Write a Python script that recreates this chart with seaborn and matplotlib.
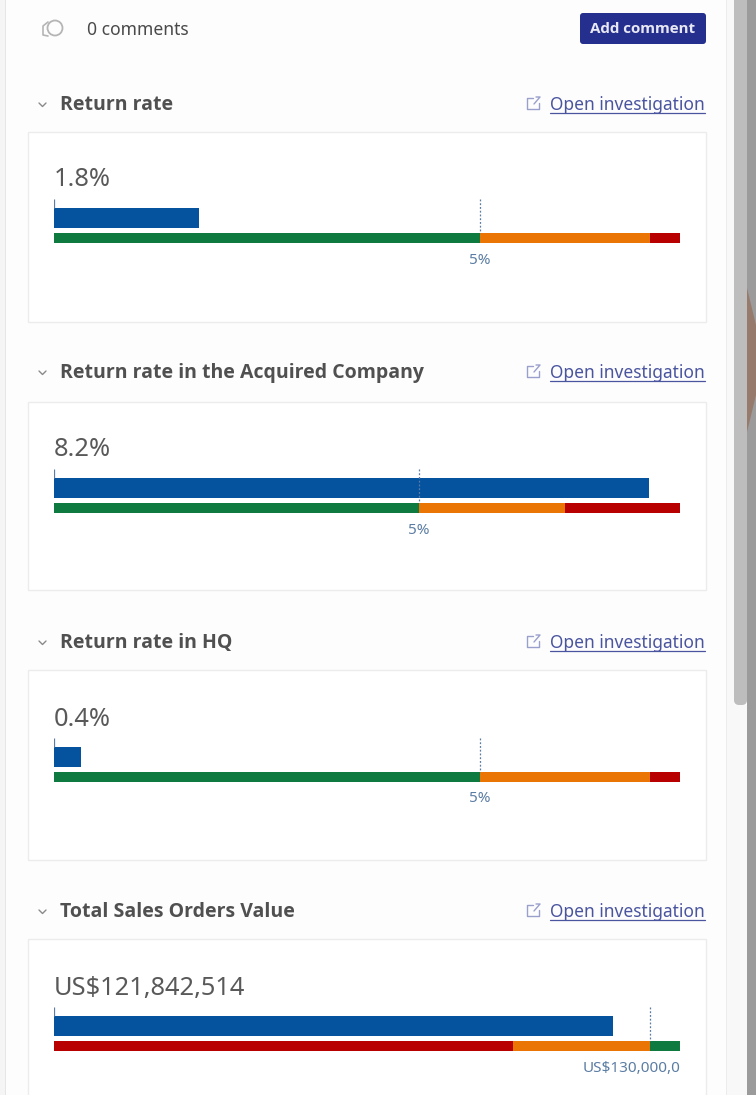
import matplotlib
matplotlib.use("Agg")
import matplotlib.pyplot as plt
from matplotlib.patches import Rectangle, FancyBboxPatch, Polygon
import seaborn as sns

# card contents
titles = ['Return rate', 'Return rate in the Acquired Company', 'Return rate in HQ', 'Total Sales Orders Value']
value_labels = ['1.8%', '8.2%', '0.4%', 'US$121,842,514']
target_labels = ['5%', '5%', '5%', 'US$130,000,0']

# bar lengths
actuals = [1.7, 8.16, 0.32, 121.9]
targets = [5, 5, 5, 130]
range_ends = [[5, 7, 7.35], [5, 7, 8.58], [5, 7, 7.35], [100, 130, 136.5]]
range_colors = [['#0f7a3f', '#ea7404', '#b90000'],
                ['#0f7a3f', '#ea7404', '#b90000'],
                ['#0f7a3f', '#ea7404', '#b90000'],
                ['#b90000', '#ea7404', '#0f7a3f']]

# pixel layout of the cards
card_tops = [132, 402, 670, 939]
card_bottoms = [322, 590, 860, 1115]
header_y = [105, 373, 643, 912]
value_y = [180, 450, 719, 988]
bar_tops = [199, 469, 738, 1007]

sns.set_theme(style='white')
plt.rcParams['font.family'] = ['Noto Sans', 'DejaVu Sans']

W, H = 756, 1095
fig = plt.figure(figsize=(W / 100, H / 100), dpi=100, facecolor='#fdfdfd')
bg = fig.add_axes([0, 0, 1, 1])
bg.set_xlim(0, W)
bg.set_ylim(H, 0)
bg.axis('off')

TXT = '#4a4a4a'
LINK = '#4a55a0'
BOLD = ['Open Sans', 'DejaVu Sans']

# window edges and scrollbar
bg.add_patch(Rectangle((0, 0), 5, H, fc='#f5f5f5', ec='none'))
bg.add_patch(Rectangle((5, 0), 1, H, fc='#e6e6e6', ec='none'))
bg.add_patch(Rectangle((726, 0), 1, H, fc='#ececec', ec='none'))
bg.add_patch(Rectangle((727, 0), 7, H, fc='#f8f8f8', ec='none'))
bg.add_patch(Rectangle((734, 705), 13, H - 705, fc='#f8f8f8', ec='none'))
bg.add_patch(FancyBboxPatch((734, -20), 13, 725, boxstyle='round,pad=0,rounding_size=5', fc='#bdbdbd', ec='none'))
bg.add_patch(Rectangle((747, 0), 9, H, fc='#9b9b9b', ec='none'))
bg.add_patch(Polygon([(747, 288), (756, 325), (756, 395), (747, 432)], fc='#967a6c', ec='none'))

# top row
bg.text(87, 30, '0 comments', fontsize=12.6, color=TXT, va='center')
bg.add_patch(FancyBboxPatch((580, 13), 126, 31, boxstyle='round,pad=0,rounding_size=3', fc='#25308e', ec='none'))
bg.text(643, 29, 'Add comment', fontsize=10.9, color='#e8e8f4', va='center', ha='center', fontweight='bold', family=BOLD)
bg.add_patch(plt.Circle((55, 28), 7.5, fc='none', ec='#b5b5b5', lw=1.3))
bg.plot([48, 43, 43, 48], [22, 26, 35, 36], color='#b5b5b5', lw=1.2)

for i, title in enumerate(titles):
    hy = header_y[i]
    bg.plot([39, 42.5, 46], [hy - 2, hy + 1.5, hy - 2], color='#8a8a8a', lw=1)
    bg.text(60, hy, title, fontsize=14, color='#505050', va='center', fontweight='bold', family=BOLD)
    bg.text(705, hy, 'Open investigation', fontsize=12.5, color=LINK, va='center', ha='right')
    bg.plot([550, 705], [hy + 8, hy + 8], color=LINK, lw=0.9)
    # little "open" icon next to the link
    bg.plot([533, 527, 527, 539, 539], [hy - 7, hy - 7, hy + 4, hy + 4, hy - 2], color='#9aa0cc', lw=1)
    bg.plot([534, 540, 536], [hy - 1, hy - 8, hy - 8], color='#9aa0cc', lw=1)
    bg.add_patch(Rectangle((28, card_tops[i]), 678, card_bottoms[i] - card_tops[i], fc='white', ec='#ececec', lw=1))
    bg.text(54, value_y[i], value_labels[i], fontsize=18.3, color='#595959', va='center')

# one bullet chart per card, scaled so the full range spans x=54..680
for i in range(4):
    top = bar_tops[i]
    ax = fig.add_axes([54 / W, 1 - (top + 46) / H, 626 / W, 46 / H], facecolor='none')
    for end, col in sorted(zip(range_ends[i], range_colors[i]), reverse=True):
        sns.barplot(x=[end], y=['range'], order=['actual', 'range'], color=col, width=0.52,
                    saturation=1, linewidth=0, ax=ax)
    sns.barplot(x=[actuals[i]], y=['actual'], order=['actual', 'range'], color='#05529f', width=1.0,
                saturation=1, linewidth=0, ax=ax)
    ax.set_xlim(0, max(range_ends[i]))
    ax.set_ylim(1.35, -0.95)
    ax.vlines(targets[i], -0.95, 0.75, color='#5b7da3', lw=0.9, linestyles=(0, (1.5, 1.5)))
    ax.vlines(0, -0.95, -0.5, color='#5b7da3', lw=0.9)
    ax.axis('off')
    ha = 'right' if i == 3 else 'center'
    xt = max(range_ends[i]) if i == 3 else targets[i]
    ax.annotate(target_labels[i], (xt, 1.25), xytext=(0, -17), textcoords='offset pixels',
                fontsize=11, color='#5b7da3', ha=ha, va='center', annotation_clip=False)

fig.savefig('out.png', dpi=100, facecolor=fig.get_facecolor())
